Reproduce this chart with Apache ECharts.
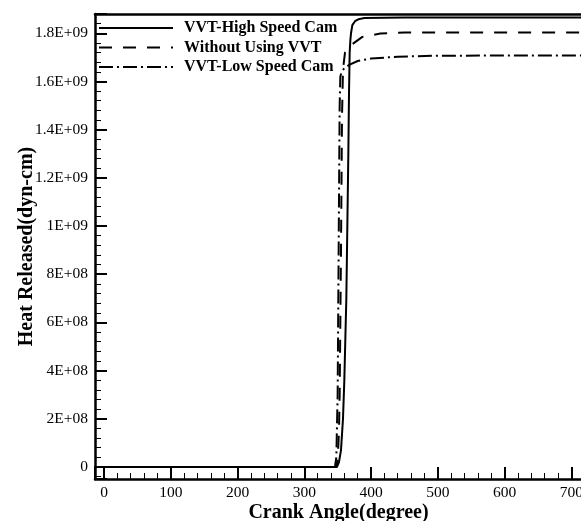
<!DOCTYPE html>
<html>
<head>
<meta charset="utf-8">
<script src="https://cdn.jsdelivr.net/npm/echarts@6/dist/echarts.min.js"></script>
<style>
  html, body { margin: 0; padding: 0; background: #fff; }
  #chart { width: 581px; height: 521px; }
</style>
</head>
<body>
<div id="chart"></div>
<script>
// Cumulative heat released versus crank angle for three valve-timing cases
const seriesNames = ['VVT-High Speed Cam', 'Without Using VVT', 'VVT-Low Speed Cam'];

// VVT-High Speed Cam
const highAngle = [-20, 349, 352, 355, 358, 360, 363, 366, 367, 368, 369, 370, 372, 376, 381, 390, 450, 740];
const highHeat = [0, 0, 0.02e9, 0.07e9, 0.2e9, 0.36e9, 0.7e9, 1.3e9, 1.55e9, 1.72e9, 1.77e9, 1.8e9, 1.834e9, 1.85e9, 1.858e9, 1.863e9, 1.865e9, 1.865e9];

// Without Using VVT
const withoutAngle = [-20, 348, 350, 352, 353, 355, 356.5, 358, 361, 365, 372, 387, 414, 450, 740];
const withoutHeat = [0, 0, 0.03e9, 0.15e9, 0.3e9, 0.9e9, 1.45e9, 1.65e9, 1.72e9, 1.735e9, 1.755e9, 1.785e9, 1.799e9, 1.803e9, 1.803e9];

// VVT-Low Speed Cam
const lowAngle = [-20, 346, 348, 350, 351.5, 353, 354, 356, 360, 368, 380, 400, 440, 500, 740];
const lowHeat = [0, 0, 0.04e9, 0.3e9, 0.9e9, 1.5e9, 1.62e9, 1.64e9, 1.655e9, 1.67e9, 1.685e9, 1.695e9, 1.703e9, 1.707e9, 1.708e9];

// Tick labels
const xTickValues = [0, 100, 200, 300, 400, 500, 600, 700];
const xTickLabels = ['0', '100', '200', '300', '400', '500', '600', '700'];
const yTickValues = [0, 2e8, 4e8, 6e8, 8e8, 1e9, 1.2e9, 1.4e9, 1.6e9, 1.8e9];
const yTickLabels = ['0', '2E+08', '4E+08', '6E+08', '8E+08', '1E+09', '1.2E+09', '1.4E+09', '1.6E+09', '1.8E+09'];

const pairs = (xs, ys) => xs.map((x, i) => [x, ys[i]]);
const pick = (values, labels, tol) => v => {
  const i = values.findIndex(t => Math.abs(t - v) < tol);
  return i >= 0 ? labels[i] : '';
};

const serif = '"Liberation Serif", "Times New Roman", serif';
const black = '#000';

const chart = echarts.init(document.getElementById('chart'), null, { renderer: 'canvas' });

chart.setOption({
  animation: false,
  backgroundColor: '#fff',
  grid: { left: 95, top: 14, bottom: 42, right: -17, containLabel: false, outerBoundsMode: 'none' },
  legend: {
    orient: 'vertical',
    left: 98,
    top: 20,
    padding: 0,
    itemWidth: 74,
    itemHeight: 20,
    itemGap: 3.5,
    data: seriesNames,
    itemStyle: { color: 'transparent', borderColor: 'transparent', borderWidth: 0 },
    textStyle: {
      fontFamily: serif, fontWeight: 'bold', fontSize: 16, color: black,
      padding: [0, 0, 0, 6]
    }
  },
  xAxis: [{
    type: 'value',
    min: -13.5,
    max: 740,
    splitNumber: 8,
    position: 'bottom',
    axisLine: { show: true, onZero: false, lineStyle: { color: black, width: 2.5 } },
    axisTick: { show: true, inside: true, length: 12, lineStyle: { color: black, width: 2 } },
    minorTick: { show: true, splitNumber: 5, length: 6, lineStyle: { color: black, width: 1 } },
    splitLine: { show: false },
    axisLabel: {
      margin: 6, fontFamily: serif, fontSize: 15.5, color: black,
      formatter: pick(xTickValues, xTickLabels, 1e-6)
    },
    name: 'Crank Angle(degree)',
    nameLocation: 'middle',
    nameGap: 24,
    nameMoveOverlap: false,
    nameTextStyle: {
      fontFamily: serif, fontWeight: 'bold', fontSize: 20, color: black,
      padding: [0, 16, 0, 0]
    }
  }, {
    type: 'value',
    min: -13.5,
    max: 740,
    position: 'top',
    axisLine: { show: true, onZero: false, lineStyle: { color: black, width: 2.5 } },
    axisTick: { show: false },
    axisLabel: { show: false },
    splitLine: { show: false }
  }],
  yAxis: {
    type: 'value',
    min: -0.05e9,
    max: 1.88e9,
    splitNumber: 10,
    axisLine: { show: true, onZero: false, lineStyle: { color: black, width: 2.5 } },
    axisTick: { show: true, inside: true, length: 12, lineStyle: { color: black, width: 2 } },
    minorTick: { show: true, splitNumber: 5, length: 6, lineStyle: { color: black, width: 1 } },
    splitLine: { show: false },
    axisLabel: {
      margin: 7, fontFamily: serif, fontSize: 15.5, color: black,
      formatter: pick(yTickValues, yTickLabels, 1)
    },
    name: 'Heat Released(dyn-cm)',
    nameLocation: 'middle',
    nameGap: 58,
    nameMoveOverlap: false,
    nameTextStyle: { fontFamily: serif, fontWeight: 'bold', fontSize: 20, color: black }
  },
  series: [{
    name: seriesNames[0],
    type: 'line',
    symbol: 'none',
    data: pairs(highAngle, highHeat),
    lineStyle: { color: black, width: 2, type: 'solid' },
    itemStyle: { color: black }
  }, {
    name: seriesNames[1],
    type: 'line',
    symbol: 'none',
    data: pairs(withoutAngle, withoutHeat),
    lineStyle: { color: black, width: 2, type: [13, 11] },
    itemStyle: { color: black }
  }, {
    name: seriesNames[2],
    type: 'line',
    symbol: 'none',
    data: pairs(lowAngle, lowHeat),
    lineStyle: { color: black, width: 2, type: [14, 4, 2, 4] },
    itemStyle: { color: black }
  }]
});
</script>
</body>
</html>
